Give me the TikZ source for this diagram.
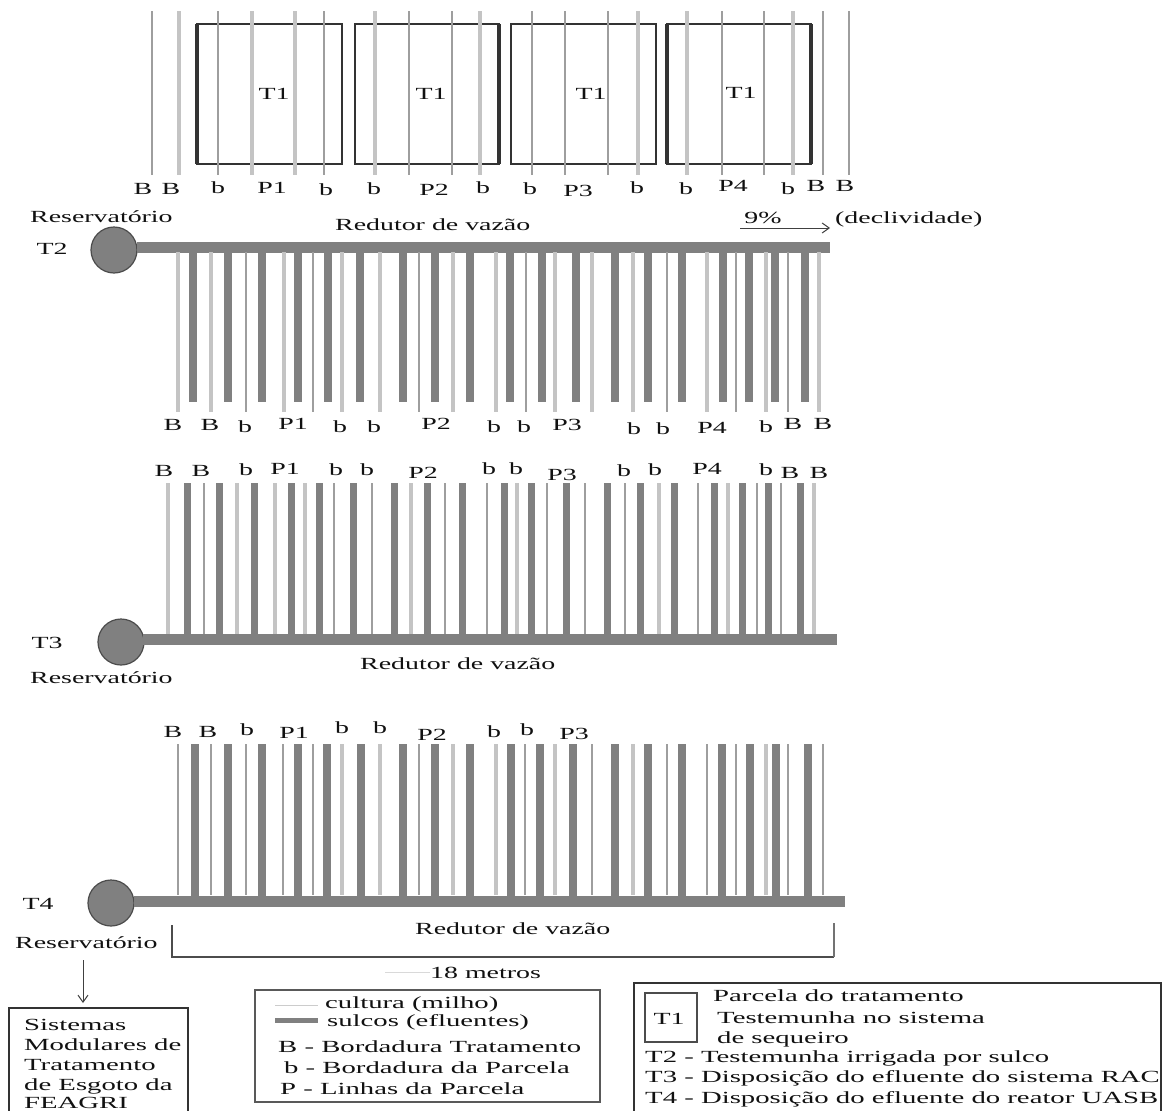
\documentclass[tikz,border=0pt]{standalone}
\usepackage{fontspec}
\setmainfont[FakeStretch=1.64]{Liberation Serif}
\newfontfamily\keyfont[FakeStretch=1.69]{Liberation Serif}
\usetikzlibrary{arrows.meta}
\definecolor{barc}{HTML}{808080}
\definecolor{inkc}{HTML}{111111}
\tikzset{
  lbl/.style={font=\fontsize{17}{20}\selectfont,text=inkc,inner sep=0pt,text height=15pt,text depth=3pt},
  lblw/.style={lbl,anchor=west},
  keyw/.style={lblw,font=\keyfont\fontsize{17}{20}\selectfont},
  barline/.style={draw=barc,line width=11pt},
  furrow/.style={draw=barc,line width=8pt},
  culA/.style={draw=black!38,line width=2pt},
  culB/.style={draw=black!23,line width=3.6pt},
  tank/.style={circle,draw=black!70,line width=1.2pt,fill=barc,minimum size=46pt,inner sep=0pt},
  plot/.style={draw=black!80,line width=2.2pt},
  plotedge/.style={draw=black!80,line width=3.5pt},
  frame/.style={draw=black!80,line width=1.2pt},
  arr/.style={draw=black!75,line width=1pt,-{Straight Barb[length=7pt,width=10pt]}}
}
\begin{document}
\begin{tikzpicture}[x=1pt,y=-1pt]
\useasboundingbox (0,0) rectangle (1163,1111);
\clip (0,0) rectangle (1163,1111);
\fill[white] (0,0) rectangle (1163,1111);

% ---------- T1 ----------
\foreach \a/\b in {197/342,355/499,511/656,667/811}{
  \draw[plot] (\a,24) rectangle (\b,164);
}
\draw[plotedge] (197,24) -- (197,164);
\draw[plotedge] (499,24) -- (499,164);
\draw[plotedge] (667,24) -- (667,164);
\draw[plotedge] (811,24) -- (811,164);
\foreach \x/\s in {152/culA,179/culB,218/culA,252/culB,295/culB,324/culA,375/culB,409/culA,452/culA,480/culB,532/culA,565/culA,608/culA,638/culB,687/culB,722/culA,764/culA,793/culB,823/culA,849/culA}{
  \draw[\s] (\x,11) -- (\x,175);
}
\foreach \t/\x/\y [count=\i] in {T1/274/93,T1/431/93,T1/591/93,T1/741/92,
  B/143/188,B/171/188,b/218/187,P1/272/187,b/326/189,b/374/188,P2/434/189,b/483/187,b/530/188,P3/578/190,b/637/187,b/686/188,P4/733/185,b/788/188,B/816/185,B/845/185}{
  \node[lbl] (ta\i) at (\x,\y) {\t};
}

% ---------- T2 ----------
\node[lblw] (res2) at (30,216) {Reservatório};
\node[lbl] (t2) at (52,248) {T2};
\node[tank] (c2) at (114,250) {};
\coordinate (e2) at (830,247);
\coordinate (c2r) at (137,247);
\draw[barline] (c2r) -- (e2);
\node[lblw] (red2) at (335,224) {Redutor de vazão};
\node[lbl] (pct) at (763,217) {9\%};
\coordinate (sa) at (740,228);
\coordinate (sb) at (830,228);
\draw[arr] (sa) -- (sb);
\node[lblw] (decl) at (835,217) {(declividade)};
\foreach \x in {193,228,262,298,328,360,403,435,470,510,542,576,615,648,682,723,749,775,805}{
  \draw[furrow] (\x,252) -- (\x,402);
}
\foreach \x/\s in {178/culB,211/culB,246/culA,284/culB,313/culA,342/culB,380/culB,419/culA,453/culB,496/culB,526/culA,555/culB,592/culB,633/culB,667/culA,707/culB,736/culA,766/culB,788/culA,819/culB}{
  \draw[\s] (\x,252) -- (\x,412);
}
\foreach \t/\x/\y [count=\i] in {B/173/424,B/210/424,b/245/426,P1/293/423,b/340/426,b/374/426,P2/436/423,b/494/426,b/524/426,P3/567/424,b/634/428,b/663/428,P4/712/427,b/766/426,B/793/423,B/823/423}{
  \node[lbl] (tb\i) at (\x,\y) {\t};
}

% ---------- T3 ----------
\foreach \x in {187,219,254,291,319,353,394,427,462,504,531,566,607,640,674,714,742,768,800}{
  \draw[furrow,line width=7pt] (\x,483) -- (\x,636);
}
\foreach \x/\s in {168/culB,204/culA,237/culB,275/culB,305/culB,334/culA,372/culA,411/culB,445/culA,487/culA,517/culB,547/culA,585/culA,625/culA,659/culB,698/culA,728/culB,757/culA,781/culA,814/culB}{
  \draw[\s] (\x,483) -- (\x,634);
}
\foreach \t/\x/\y [count=\i] in {B/164/470,B/201/470,b/246/469,P1/285/468,b/336/469,b/367/469,P2/423/472,b/489/468,b/516/468,P3/562/474,b/624/470,b/655/469,P4/707/468,b/766/469,B/790/472,B/819/472}{
  \node[lbl] (tc\i) at (\x,\y) {\t};
}
\node[tank] (c3) at (121,642) {};
\coordinate (c3r) at (143,639);
\coordinate (e3) at (837,639);
\draw[barline] (c3r) -- (e3);
\node[lbl] (t3) at (47,642) {T3};
\node[lblw] (res3) at (30,677) {Reservatório};
\node[lblw] (red3) at (360,663) {Redutor de vazão};

% ---------- T4 ----------
\foreach \x in {195,228,262,298,327,361,403,435,470,511,540,573,615,648,682,722,750,776,808}{
  \draw[furrow] (\x,744) -- (\x,896);
}
\foreach \x/\s in {178/culA,211/culA,246/culA,283/culA,313/culA,342/culB,380/culB,419/culA,453/culB,496/culB,525/culA,555/culB,592/culA,633/culB,667/culA,707/culA,736/culA,766/culB,788/culA,823/culA}{
  \draw[\s] (\x,744) -- (\x,895);
}
\foreach \t/\x/\y [count=\i] in {B/173/731,B/208/731,b/247/729,P1/294/732,b/342/727,b/380/727,P2/432/734,b/494/731,b/527/729,P3/574/733}{
  \node[lbl] (td\i) at (\x,\y) {\t};
}
\node[tank] (c4) at (111,903) {};
\coordinate (c4r) at (134,901);
\coordinate (e4) at (845,901);
\draw[barline] (c4r) -- (e4);
\node[lbl] (t4) at (38,903) {T4};
\node[lblw] (res4) at (15,942) {Reservatório};
\node[lblw] (red4) at (415,928) {Redutor de vazão};

% ---------- dimension ----------
\coordinate (d1) at (172,925);
\coordinate (d2) at (172,957);
\coordinate (d3) at (834,957);
\coordinate (d4) at (834,923);
\draw[draw=black!70,line width=1.2pt] (d1) -- (d2) -- (d3);
\draw[draw=black!55,line width=2.2pt] (d3) -- (d4);
\node[lblw] (dim) at (430,972) {18 metros};
\coordinate (dl) at (385,972);
\draw[draw=black!15,line width=1pt] (dl) -- (dim.west);

% ---------- Sistemas box ----------
\draw[frame] (9,1008) rectangle (188,1135);
\node[keyw] (s1) at (24,1024) {Sistemas};
\node[keyw] (s2) at (24,1044) {Modulares de};
\node[keyw] (s3) at (24,1064) {Tratamento};
\node[keyw] (s4) at (24,1084) {de Esgoto da};
\node[keyw] (s5) at (24,1102) {FEAGRI};
\coordinate (aa) at (83,960);
\coordinate (ab) at (83,1003);
\draw[arr] (aa) -- (ab);

% ---------- Legend ----------
\draw[frame,draw=black!65] (255,990) rectangle (600,1102);
\draw[draw=black!20,line width=1pt] (275,1005) -- (318,1005);
\draw[draw=barc,line width=5pt] (275,1020) -- (318,1020);
\node[keyw] (l1) at (325,1002) {cultura (milho)};
\node[keyw] (l2) at (327,1020) {sulcos (efluentes)};
\node[keyw] (l3) at (278,1046) {B - Bordadura Tratamento};
\node[keyw] (l4) at (284,1067) {b - Bordadura da Parcela};
\node[keyw] (l5) at (280,1088) {P - Linhas da Parcela};

% ---------- Key ----------
\draw[frame] (634,983) rectangle (1161,1135);
\draw[plot,draw=black!70] (645,993) rectangle (697,1042);
\node[lbl] (k0) at (669,1018) {T1};
\node[keyw] (k1) at (713,995) {Parcela do tratamento};
\node[keyw] (k2) at (717,1017) {Testemunha no sistema};
\node[keyw] (k3) at (717,1037) {de sequeiro};
\node[keyw] (k4) at (645,1056) {T2 - Testemunha irrigada por sulco};
\node[keyw] (k5) at (645,1076) {T3 - Disposição do efluente do sistema RAC};
\node[keyw] (k6) at (645,1097) {T4 - Disposição do efluente do reator UASB};
\end{tikzpicture}
\end{document}
